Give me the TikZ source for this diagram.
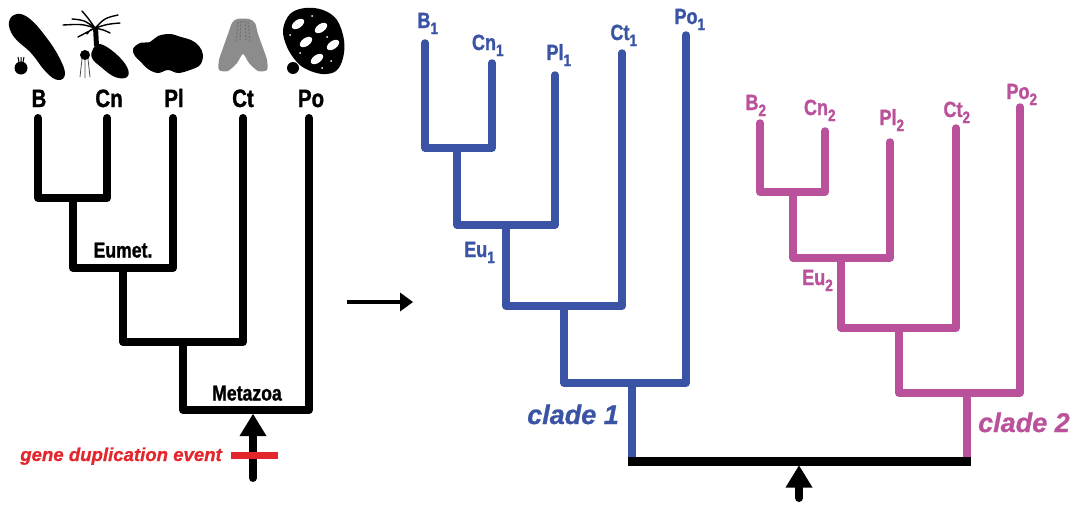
\documentclass[tikz,border=0pt]{standalone}
\usepackage{fontspec}
\setmainfont{Liberation Sans}
\newfontfamily\treefont[FakeStretch=0.82,FakeBold=1.2]{Liberation Sans Bold}
\newfontfamily\cladefont[FakeBold=0.8]{Liberation Sans Bold Italic}
\usetikzlibrary{arrows.meta}
\definecolor{cladeblue}{HTML}{3A53A4}
\definecolor{clademag}{HTML}{B9519B}
\definecolor{dupred}{HTML}{E3262B}
\definecolor{ctgrey}{HTML}{8C8C8C}
% subscript index that does not shift the centring of the main label
\newcommand\subidx[1]{\rlap{\raisebox{-6pt}{\fontsize{16.5}{17}\selectfont #1}}}
\newcommand\subin[1]{\raisebox{-6pt}{\fontsize{16.5}{17}\selectfont #1}}

\begin{document}
\begin{tikzpicture}[x=1pt,y=-1pt,
  tree/.style={line width=8pt, line cap=round, line join=round},
  gtree/.style={line width=7.5pt, line cap=round, line join=round},
  rootstem/.style={line width=7.5pt, line cap=butt},
  taxon/.style={font=\treefont\fontsize{25}{27}\selectfont, inner sep=0pt, anchor=base},
  gene/.style={font=\treefont\fontsize{22}{24}\selectfont, inner sep=0pt, anchor=base},
  node label/.style={font=\treefont\fontsize{21.5}{24}\selectfont, inner sep=0pt, anchor=base},
  clade/.style={font=\cladefont\fontsize{27}{30}\selectfont, inner sep=0pt, anchor=base},
  bigtip/.style={-{Triangle[length=22pt 0 0, width=27pt 0 0, line width=0pt 0 0]}},
  smalltip/.style={-{Triangle[length=13pt 0 0, width=19pt 0 0, line width=0pt 0 0]}},
]
\useasboundingbox (0,0) rectangle (1078,506);

% ---------- animal silhouettes ----------
% Bilateria
\fill plot[smooth cycle, tension=0.7] coordinates
  {(9,22) (17,14) (30,19) (46,37) (59,57) (65,74) (58,80) (46,72) (31,53) (14,37)};
\fill (21,68) circle (6.5);
\draw[line width=1pt] (19,62) -- (18,57) (23,62) -- (24,57) (21,62) -- (21,57);
% Cnidaria: polyp with tentacles and a small medusa
\draw[line width=1.4pt, line cap=round]
  (95,28) .. controls (82,24) .. (63,25)
  (95,28) .. controls (84,20) .. (72,19)
  (95,28) .. controls (88,18) .. (82,11)
  (95,28) .. controls (105,18) .. (118,15)
  (95,28) .. controls (108,24) .. (120,23)
  (95,28) .. controls (104,30) .. (110,33)
  (95,28) .. controls (86,32) .. (78,37)
  (95,28) .. controls (90,30) .. (87,34);
\fill (93,27) -- (98,27) -- (99,46) -- (94,46) -- cycle;
\fill plot[smooth cycle, tension=0.7] coordinates
  {(93,49) (100,44) (115,53) (127,67) (127,77) (115,77) (101,67) (92,58)};
\fill (85,55) circle (5);
\draw[line width=0.8pt, black!70] (82,59) -- (80,77) (85,60) -- (85,78) (88,59) -- (90,77);
% Placozoa
\fill plot[smooth cycle, tension=0.6] coordinates
  {(133,49) (140,43) (150,42) (158,36) (170,34) (181,37) (191,40) (199,46)
   (203,55) (200,65) (190,70) (178,73) (168,70) (158,73) (148,69) (140,61) (135,56)};
% Ctenophora
\fill[ctgrey] plot[smooth cycle, tension=0.45] coordinates
  {(232,23) (237,19) (249,19) (255,23) (258,34) (263,48) (267,60) (267,70)
   (258,71) (249,63) (243,54) (237,63) (228,71) (219,70) (219,60) (223,48) (228,34)};
\draw[black!55, line width=1.2pt, dash pattern=on 2pt off 1.5pt]
  (238,22) -- (236,42) (241,21) -- (240,40) (245,21) -- (246,40) (248,22) -- (250,42);
% Porifera
\fill plot[smooth cycle, tension=0.6] coordinates
  {(283,30) (290,14) (305,8) (323,10) (337,20) (344,40) (343,58) (336,71)
   (322,74) (306,69) (296,61) (287,47)};
\fill (293,68) circle (6);
\begin{scope}[white]
  \fill[rotate around={35:(298,24)}] (298,24) ellipse (7 and 4);
  \fill[rotate around={35:(321,28)}] (321,28) ellipse (7 and 4);
  \fill[rotate around={35:(306,42)}] (306,42) ellipse (7 and 4);
  \fill[rotate around={35:(333,45)}] (333,45) ellipse (7 and 4);
  \fill[rotate around={35:(317,59)}] (317,59) ellipse (7 and 4);
  \fill (290,35) circle (1) (312,16) circle (1) (327,37) circle (1)
        (300,53) circle (1) (331,61) circle (1) (322,68) circle (1);
\end{scope}

% ---------- species tree ----------
\coordinate (tB)  at (38,118);
\coordinate (tCn) at (107,118);
\coordinate (tPl) at (173,118);
\coordinate (tCt) at (243,118);
\coordinate (tPo) at (309,118);
\coordinate (nBC) at (73,198);
\coordinate (nEu) at (123,268);
\coordinate (nCt) at (183,342);
\coordinate (nMz) at (253,410);
\coordinate (dupBase) at (253,478);

\draw[tree] (tB) |- (nBC) -| (tCn);
\draw[tree] (nBC) |- (nEu) -| (tPl);
\draw[tree] (nEu) |- (nCt) -| (tCt);
\draw[tree] (nCt) |- (nMz) -| (tPo);

\node[taxon] (lB)  at ([xshift=1pt,yshift=11pt]tB)  {B};
\node[taxon] (lCn) at ([xshift=2pt,yshift=11pt]tCn) {Cn};
\node[taxon] (lPl) at ([xshift=1pt,yshift=11pt]tPl) {Pl};
\node[taxon] (lCt) at ([yshift=11pt]tCt) {Ct};
\node[taxon] (lPo) at ([xshift=2pt,yshift=11pt]tPo) {Po};
\node[node label] (lEumet) at ([yshift=10.5pt]nEu) {Eumet.};
\node[node label] (lMeta) at ([xshift=-6pt,yshift=9.5pt]nMz) {Metazoa};

% duplication arrow
\draw[tree, bigtip, shorten >=4pt] (dupBase) -- (nMz);
\coordinate (dupL) at (231,455);
\coordinate (dupR) at (278,455);
\draw[dupred, line width=7pt] (dupL) -- (dupR);
\node[font=\cladefont\fontsize{18.6}{21}\selectfont, text=dupred,
      inner sep=0pt, anchor=base east] (lDup) at (222,461) {gene duplication event};

% ---------- transition arrow ----------
\coordinate (mA) at (347,302);
\coordinate (mB) at (413,302);
\draw[line width=3.5pt, smalltip] (mA) -- (mB);

% ---------- gene tree: clade 1 ----------
\begin{scope}[color=cladeblue]
\coordinate (tB1)  at (425,43);
\coordinate (tCn1) at (492,63);
\coordinate (tPl1) at (555,75);
\coordinate (tCt1) at (622,53);
\coordinate (tPo1) at (686,35);
\coordinate (nBC1) at (457,148);
\coordinate (nEu1) at (506,225);
\coordinate (nCt1) at (564,306);
\coordinate (nPo1) at (632,383);
\coordinate (rootL) at (632,461);
\draw[gtree] (tB1) |- (nBC1) -| (tCn1);
\draw[gtree] (nBC1) |- (nEu1) -| (tPl1);
\draw[gtree] (nEu1) |- (nCt1) -| (tCt1);
\draw[gtree] (nCt1) |- (nPo1) -| (tPo1);
\draw[rootstem] (nPo1) -- (rootL);
\node[gene] (lB1)  at ([xshift=-1pt,yshift=15pt]tB1)  {B\subidx{1}};
\node[gene] (lCn1) at ([xshift=-8pt,yshift=13pt]tCn1) {Cn\subidx{1}};
\node[gene] (lPl1) at ([yshift=15pt]tPl1) {Pl\subidx{1}};
\node[gene] (lCt1) at ([xshift=-2pt,yshift=13pt]tCt1) {Ct\subidx{1}};
\node[gene] (lPo1) at ([yshift=11pt]tPo1) {Po\subidx{1}};
\node[gene, anchor=base east] (lEu1) at ([xshift=-11pt,yshift=-32pt]nEu1) {Eu\subin{1}};
\node[clade, anchor=base east] (lC1) at (619,424) {clade 1};
\end{scope}

% ---------- gene tree: clade 2 ----------
\begin{scope}[color=clademag]
\coordinate (tB2)  at (760,123);
\coordinate (tCn2) at (825,131);
\coordinate (tPl2) at (890,142);
\coordinate (tCt2) at (956,128);
\coordinate (tPo2) at (1020,107);
\coordinate (nBC2) at (793,192);
\coordinate (nEu2) at (841,258);
\coordinate (nCt2) at (899,328);
\coordinate (nPo2) at (967,393);
\coordinate (rootR) at (967,461);
\draw[gtree] (tB2) |- (nBC2) -| (tCn2);
\draw[gtree] (nBC2) |- (nEu2) -| (tPl2);
\draw[gtree] (nEu2) |- (nCt2) -| (tCt2);
\draw[gtree] (nCt2) |- (nPo2) -| (tPo2);
\draw[rootstem] (nPo2) -- (rootR);
\node[gene] (lB2)  at ([xshift=-8pt,yshift=13pt]tB2)  {B\subidx{2}};
\node[gene] (lCn2) at ([xshift=-9pt,yshift=16pt]tCn2) {Cn\subidx{2}};
\node[gene] (lPl2) at ([xshift=-2pt,yshift=17pt]tPl2) {Pl\subidx{2}};
\node[gene] (lCt2) at ([xshift=-3pt,yshift=11pt]tCt2) {Ct\subidx{2}};
\node[gene] (lPo2) at ([xshift=-2pt,yshift=8pt]tPo2) {Po\subidx{2}};
\node[gene, anchor=base east] (lEu2) at ([xshift=-8pt,yshift=-27pt]nEu2) {Eu\subin{2}};
\node[clade, anchor=base west] (lC2) at (978,432) {clade 2};
\end{scope}

% ---------- duplication node joining both clades ----------
\draw[line width=9pt, line cap=butt] ([xshift=-4pt]rootL) -- ([xshift=4pt]rootR);
\coordinate (dupNode) at (799,461);
\coordinate (dupBase2) at (799,498);
\draw[tree, bigtip, shorten >=4.5pt] (dupBase2) -- (dupNode);

\end{tikzpicture}
\end{document}
